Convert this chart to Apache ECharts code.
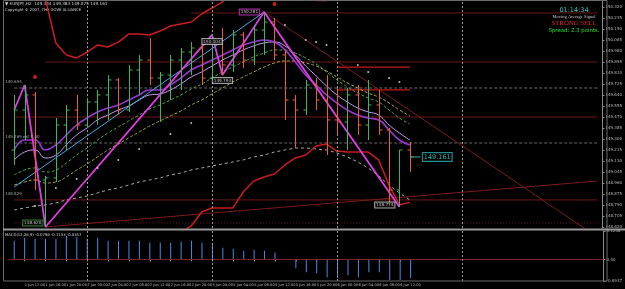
<!DOCTYPE html>
<html><head><meta charset="utf-8">
<script src="https://cdn.jsdelivr.net/npm/echarts@6/dist/echarts.min.js"></script>
<style>html,body{margin:0;padding:0;background:#000;}#c{width:625px;height:289px;}</style>
</head><body><div id="c"></div>
<script>
const categories = [
 '1 Jun 10:00','1 Jun 12:00','1 Jun 14:00','1 Jun 16:00','1 Jun 18:00','1 Jun 20:00','1 Jun 22:00',
 '2 Jun 00:00','2 Jun 02:00','2 Jun 04:00','2 Jun 06:00','2 Jun 08:00','2 Jun 10:00','2 Jun 12:00',
 '2 Jun 14:00','2 Jun 16:00','2 Jun 18:00','2 Jun 20:00','2 Jun 22:00',
 '5 Jun 00:00','5 Jun 02:00','5 Jun 04:00','5 Jun 06:00','5 Jun 08:00','5 Jun 10:00','5 Jun 12:00',
 '5 Jun 14:00','5 Jun 16:00','5 Jun 18:00','5 Jun 20:00','5 Jun 22:00',
 '6 Jun 00:00','6 Jun 02:00','6 Jun 04:00','6 Jun 06:00','6 Jun 08:00','6 Jun 10:00','6 Jun 12:00','6 Jun 14:00',
 '6 Jun 16:00','6 Jun 18:00','6 Jun 20:00','6 Jun 22:00','7 Jun 00:00','7 Jun 02:00','7 Jun 04:00',
 '7 Jun 06:00','7 Jun 08:00','7 Jun 10:00','7 Jun 12:00','7 Jun 14:00','7 Jun 16:00','7 Jun 18:00',
 '7 Jun 20:00','7 Jun 22:00','8 Jun 00:00','8 Jun 02:00'
];
const opens  = [149.215,149.524,149.640,148.983,148.999,149.408,149.524,149.408,149.586,149.640,149.756,149.524,149.833,149.910,149.771,149.794,149.910,149.972,150.003,149.771,150.065,149.872,150.104,149.910,150.142,150.204,149.949,149.601,149.524,149.717,149.601,149.447,149.431,149.640,149.408,149.563,149.369,148.906,149.215];
const highs  = [149.640,149.717,149.663,149.014,149.462,149.563,149.640,149.617,149.679,149.794,149.771,149.872,149.949,150.080,149.818,149.949,150.003,150.049,150.026,150.104,150.158,150.142,150.127,150.181,150.281,150.235,149.988,149.640,149.756,149.771,149.794,149.694,149.694,149.717,149.756,149.679,149.385,149.215,149.277];
const lows   = [149.099,149.292,148.906,148.620,148.968,149.215,149.369,149.385,149.408,149.447,149.485,149.509,149.640,149.717,149.431,149.601,149.679,149.794,149.717,149.756,149.794,149.818,149.849,149.872,149.949,149.910,149.447,149.230,149.485,149.524,149.176,149.331,149.215,149.331,149.292,149.331,148.790,148.774,149.045];
const closes = [149.524,149.640,148.983,148.999,149.408,149.524,149.408,149.586,149.640,149.756,149.524,149.833,149.910,149.771,149.794,149.910,149.972,150.003,149.771,150.065,149.872,150.104,149.910,150.142,150.204,149.949,149.601,149.524,149.717,149.601,149.447,149.431,149.640,149.408,149.563,149.369,148.906,149.215,149.161];

const maFast   = [149.215,149.292,149.292,149.215,149.254,149.331,149.408,149.462,149.509,149.539,149.563,149.601,149.640,149.679,149.679,149.717,149.771,149.833,149.872,149.910,149.949,149.988,150.026,150.049,150.065,150.049,149.988,149.895,149.794,149.717,149.640,149.578,149.524,149.485,149.462,149.447,149.369,149.292,149.254];
const maMid    = [149.138,149.199,149.215,149.153,149.176,149.254,149.331,149.385,149.447,149.485,149.524,149.555,149.601,149.640,149.648,149.679,149.725,149.779,149.818,149.864,149.910,149.949,149.988,150.019,150.042,150.049,150.019,149.949,149.864,149.787,149.709,149.640,149.586,149.539,149.509,149.485,149.408,149.346,149.292];
const maGreen  = [149.022,149.060,149.076,149.045,149.060,149.114,149.176,149.230,149.292,149.346,149.393,149.439,149.485,149.532,149.563,149.601,149.640,149.686,149.725,149.771,149.818,149.856,149.895,149.934,149.964,149.988,149.988,149.964,149.926,149.879,149.818,149.756,149.702,149.655,149.617,149.586,149.524,149.462,149.416];
const maYellow = [148.944,148.968,148.983,148.960,148.968,149.006,149.060,149.107,149.161,149.215,149.261,149.308,149.354,149.400,149.439,149.478,149.516,149.563,149.601,149.648,149.694,149.740,149.779,149.818,149.856,149.887,149.903,149.903,149.887,149.864,149.825,149.779,149.733,149.694,149.655,149.624,149.578,149.524,149.478];
const maSlow   = [148.751,148.767,148.782,148.790,148.805,148.829,148.844,148.859,148.883,148.906,148.921,148.944,148.968,148.983,148.999,149.022,149.037,149.060,149.076,149.091,149.107,149.122,149.138,149.161,149.176,149.199,149.215,149.230,149.230,149.223,149.215,149.192,149.161,149.122,149.076,149.014,148.944,148.883,148.829];
const envUpper = [150.50,150.48,150.42,150.38,150.042,149.949,149.926,149.972,150.026,150.011,150.049,150.111,150.111,150.104,150.134,150.173,150.189,150.204,150.266,150.312,150.359,150.42,150.46,150.50,150.52,150.52,150.50,150.46,150.42,150.37,150.37,150.42,150.46,150.50,150.52,150.52,150.52,150.52,150.52];
const envLower = [null,null,null,null,null,null,null,null,null,null,null,null,null,null,null,148.55,148.58,148.628,148.736,148.767,148.767,148.767,148.890,148.975,149.006,149.029,149.099,149.153,149.176,149.246,149.261,149.207,149.199,149.199,149.199,149.138,148.944,148.790,148.810];

const zigzag    = [[0,149.524],[1,149.717],[3,148.620],[19,150.104],[20,149.794],[24,150.281],[37,148.774]];
const trendCyan = [[0,148.929],[24,150.281],[37,148.774]];
const trendDown = [[24,150.281],[56,148.543]];
const trendUp   = [[3,148.620],[56,148.975]];
const sarDots   = [[2,148.782],[4,148.921],[6,148.991],[8,149.076],[10,149.138],[12,149.223],[15,149.339],[17,149.424],
                   [26,150.181],[28,150.065],[29,150.049],[30,150.026],[33,149.872],[34,149.818],[36,149.771],[37,149.740]];
const fractals  = [[2,149.779],[25,150.343]];

const levelPrices = [150.274,149.895,149.694,149.470,149.269,148.829,148.651];
const levelStarts = [17,3,0,0,0,0,0];
const levelNotes  = ['','','149.694','','149.269 ext 1.00','148.829',''];
const boxPrices   = [149.856,149.679];
const daySeparators = ['2 Jun 00:00','5 Jun 00:00','6 Jun 00:00','7 Jun 00:00'];
const pivotTags = [[3,148.620],[19,150.104],[20,149.794],[24,150.281],[37,148.774]];
const lastPrice = 149.161;

const macd = [0.0811,0.0939,0.0897,0.0897,0.0897,0.1025,0.0982,0.0897,0.0939,0.0811,0.0811,0.0811,0.0811,0.0726,0.0726,0.0726,0.0769,0.0811,0.0726,0.0726,0.0512,0.0470,0.0384,0.0427,0.0384,0.0299,0.0010,-0.0384,-0.0555,-0.0598,-0.0769,-0.0811,-0.0683,-0.0769,-0.0555,-0.0555,-0.0897,-0.0897,-0.0811];

const priceTicks = [150.320,150.235,150.150,150.065,149.980,149.895,149.810,149.725,149.640,149.555,149.470,149.385,149.300,149.215,149.130,149.045,148.960,148.875,148.790,148.705,148.620];
const macdTicks = [-0.0937,0,0.1238];

const UP = '#3cb85c', DOWN = '#e8602c';
const FONT = 'DejaVu Sans';
const nBars = closes.length;
const ohlc = closes.map((c,i)=>[i, opens[i], c, lows[i], highs[i]]);
const lastIdx = categories.length - 1;

const series = [];
levelPrices.forEach((p,k)=>{
  const grey = k===2 || k===4;
  series.push({type:'line', xAxisIndex:0, yAxisIndex:0, silent:true, symbol:'none',
    data:[[levelStarts[k],p],[lastIdx,p]],
    lineStyle:{color: grey ? '#6a6a6a' : '#6e1818', width:1, type: grey ? [3,2] : (k===6 ? [1,2] : 'solid')}, z:1});
});
boxPrices.forEach(p=>{
  series.push({type:'line', silent:true, symbol:'none', data:[[31,p],[38,p]], lineStyle:{color:'#c81818', width:1.2}, z:2});
});
series.push({type:'line', silent:true, symbol:'none', data:trendDown, lineStyle:{color:'#7a1c1c', width:1}, z:2});
series.push({type:'line', silent:true, symbol:'none', data:trendUp, lineStyle:{color:'#7a1c1c', width:1}, z:2});
series.push({type:'line', silent:true, symbol:'none', data:maSlow, lineStyle:{color:'#a8a8a8', width:1, type:[3,3]}, z:3});
series.push({type:'line', silent:true, symbol:'none', data:maYellow, smooth:true, lineStyle:{color:'#a8a83c', width:1, type:[3,2]}, z:3});
series.push({type:'line', silent:true, symbol:'none', data:maGreen, smooth:true, lineStyle:{color:'#4aa84a', width:1, type:[3,2]}, z:3});
series.push({type:'line', silent:true, symbol:'none', data:maMid, smooth:true, lineStyle:{color:'#c79cf5', width:1}, z:3});
series.push({type:'line', silent:true, symbol:'none', data:maFast, smooth:true, lineStyle:{color:'#9a36d2', width:1.6}, z:3});
series.push({type:'line', silent:true, symbol:'none', data:envUpper, lineStyle:{color:'#cc1c1c', width:1.5}, z:3});
series.push({type:'line', silent:true, symbol:'none', data:envLower, lineStyle:{color:'#cc1c1c', width:1.5}, z:3});
series.push({type:'line', silent:true, symbol:'none', data:trendCyan, lineStyle:{color:'#45a6e6', width:1}, z:4});
series.push({type:'line', silent:true, symbol:'none', data:zigzag, lineStyle:{color:'#e03ce0', width:1.8}, z:4});
series.push({type:'custom', name:'EURJPY', xAxisIndex:0, yAxisIndex:0, data:ohlc, encode:{x:0, y:[1,2,3,4]}, z:5,
  renderItem:function(params, api){
    const x = api.value(0);
    const o = api.coord([x, api.value(1)]);
    const c = api.coord([x, api.value(2)]);
    const l = api.coord([x, api.value(3)]);
    const h = api.coord([x, api.value(4)]);
    const col = api.value(2) >= api.value(1) ? UP : DOWN;
    const cx = Math.round(h[0]) + 0.5;
    return {type:'group', children:[
      {type:'line', shape:{x1:cx,y1:h[1],x2:cx,y2:l[1]}, style:{stroke:col,lineWidth:1}},
      {type:'line', shape:{x1:cx-3,y1:o[1],x2:cx,y2:o[1]}, style:{stroke:col,lineWidth:1}},
      {type:'line', shape:{x1:cx,y1:c[1],x2:cx+3,y2:c[1]}, style:{stroke:col,lineWidth:1}}
    ]};
  },
  markLine:{silent:true, symbol:'none', animation:false,
    data:[
      ...daySeparators.map(d=>({xAxis:d, lineStyle:{color:'#9a9a9a', type:[2,2], width:1}, label:{show:false}})),
      {yAxis:lastPrice, lineStyle:{opacity:0}, label:{show:true, position:'end', distance:1, formatter:lastPrice.toFixed(3),
        color:'#000', backgroundColor:'#ffffff', fontSize:4.5, fontFamily:FONT, padding:[1,1]}}
    ]}
});
series.push({type:'scatter', silent:true, data:sarDots, symbolSize:2, itemStyle:{color:'#e8e8e8'}, z:6});
series.push({type:'scatter', silent:true, data:fractals, symbolSize:4, itemStyle:{color:'#ff2020'}, z:6});
series.push({type:'line', silent:true, symbol:'none', data:[[38,lastPrice],[39,lastPrice]], lineStyle:{color:'#2bb5b5', width:1}, z:6});
series.push({type:'scatter', silent:true, symbolSize:0, z:7,
  data:[
    {value:pivotTags[0], label:{position:'left', offset:[2,-4], borderColor:'#3a9a3a'}},
    {value:pivotTags[1], label:{position:'bottom', offset:[0,-1], borderColor:'#cccccc'}},
    {value:pivotTags[2], label:{position:'bottom', offset:[0,-2], borderColor:'#cccccc'}},
    {value:pivotTags[3], label:{position:'left', offset:[0,0], borderColor:'#d040d0'}},
    {value:pivotTags[4], label:{position:'left', offset:[0,-2], borderColor:'#cccccc'}},
    {value:[38,lastPrice], label:{position:'right', distance:13, borderColor:'#2bb5b5', color:'#40d8d8', fontSize:6.5}}
  ],
  label:{show:true, formatter:p=>p.value[1].toFixed(3), color:'#e8e8e8', fontSize:4.2, fontFamily:FONT,
    backgroundColor:'#000', borderWidth:1, padding:[1,1,0,1]}
});
series.push({type:'scatter', silent:true, symbolSize:0, z:7,
  data:levelPrices.map((p,k)=>({value:[0,p], note:levelNotes[k]})).filter(d=>d.note),
  label:{show:true, position:'top', align:'left', offset:[-9,1], formatter:p=>p.data.note, color:'#c8c8c8', fontSize:4, fontFamily:FONT}
});
series.push({type:'bar', xAxisIndex:1, yAxisIndex:1, data:macd, barWidth:1, itemStyle:{color:'#4a8ae8'}, silent:true,
  markLine:{silent:true, symbol:'none', animation:false, data:[
    {yAxis:0, lineStyle:{color:'#7a2424', type:'solid', width:1}, label:{show:false}},
    ...daySeparators.map(d=>({xAxis:d, lineStyle:{color:'#9a9a9a', type:[2,2], width:1}, label:{show:false}}))
  ]}
});

const showLabel = (idx)=> idx % 2 === 1 && idx < nBars;

const chart = echarts.init(document.getElementById('c'), null, {renderer:'canvas'});
chart.setOption({
  backgroundColor:'#000000',
  animation:false,
  grid:[
    {left:9, right:18, top:0, height:228},
    {left:9, right:18, top:231, height:50}
  ],
  xAxis:[
    {type:'category', gridIndex:0, data:categories, boundaryGap:true,
     axisLine:{show:false}, axisTick:{show:false}, axisLabel:{show:false}, splitLine:{show:false}},
    {type:'category', gridIndex:1, data:categories, boundaryGap:true,
     axisLine:{show:true, lineStyle:{color:'#8a8a8a'}},
     axisTick:{show:true, interval:(i)=>showLabel(i), alignWithLabel:true, length:2, lineStyle:{color:'#8a8a8a'}},
     axisLabel:{show:true, interval:(i)=>showLabel(i), showMinLabel:true, hideOverlap:false, align:'left', margin:2, fontSize:3.6, color:'#bdbdbd', fontFamily:FONT},
     splitLine:{show:false}}
  ],
  yAxis:[
    {type:'value', gridIndex:0, position:'right', min:148.612, max:150.374,
     axisLine:{show:true, lineStyle:{color:'#8a8a8a'}},
     axisTick:{show:true, customValues:priceTicks, length:2, lineStyle:{color:'#8a8a8a'}},
     axisLabel:{show:true, customValues:priceTicks, formatter:v=>v.toFixed(3), fontSize:4, color:'#bdbdbd', margin:3, fontFamily:FONT},
     splitLine:{show:false}},
    {type:'value', gridIndex:1, position:'right', min:-0.0937, max:0.1238,
     axisLine:{show:true, lineStyle:{color:'#8a8a8a'}},
     axisTick:{show:true, customValues:macdTicks, length:2, lineStyle:{color:'#8a8a8a'}},
     axisLabel:{show:true, customValues:macdTicks, formatter:v=> v===0 ? '0.00' : v.toFixed(4), fontSize:4, color:'#bdbdbd', margin:3, fontFamily:FONT},
     splitLine:{show:false}}
  ],
  series: series,
  graphic:[
    {type:'rect', silent:true, shape:{x:3.5, y:0.5, width:603.5, height:280.5}, style:{fill:'none', stroke:'#6a6a6a', lineWidth:1}, z:100},
    {type:'line', silent:true, shape:{x1:3, y1:229.5, x2:625, y2:229.5}, style:{stroke:'#9a9a9a', lineWidth:2}, z:100},
    {type:'text', silent:true, left:5, top:2, style:{text:'▼ EURJPY,H2  149.344 149.383 149.075 149.161', fill:'#d8d8d8', fontSize:4.2, fontFamily:FONT}},
    {type:'text', silent:true, left:5, top:8, style:{text:'Copyright © 2007, THE DOVE ALLIANCE', fill:'#d8d8d8', fontSize:3.8, fontFamily:FONT}},
    {type:'text', silent:true, left:5, top:233, style:{text:'MACD(12,26,9) -0.0798 -0.1133 -0.0357', fill:'#d8d8d8', fontSize:3.8, fontFamily:FONT}},
    {type:'text', silent:true, x:574, y:10, style:{text:'01:14:34', fill:'#3ec6c6', fontSize:6.5, fontFamily:FONT, align:'center', verticalAlign:'middle'}},
    {type:'text', silent:true, x:574, y:16.5, style:{text:'Moving Average Signal', fill:'#c8c8c8', fontSize:4.5, fontFamily:'Liberation Serif', align:'center', verticalAlign:'middle'}},
    {type:'text', silent:true, x:574, y:23.5, style:{text:'STRONG SELL', fill:'#e02424', fontSize:6.8, fontFamily:'Liberation Serif', align:'center', verticalAlign:'middle'}},
    {type:'text', silent:true, x:574, y:30.5, style:{text:'Spread: 2.3 points.', fill:'#28e028', fontSize:5.4, fontFamily:FONT, align:'center', verticalAlign:'middle'}}
  ]
});
</script></body></html>
